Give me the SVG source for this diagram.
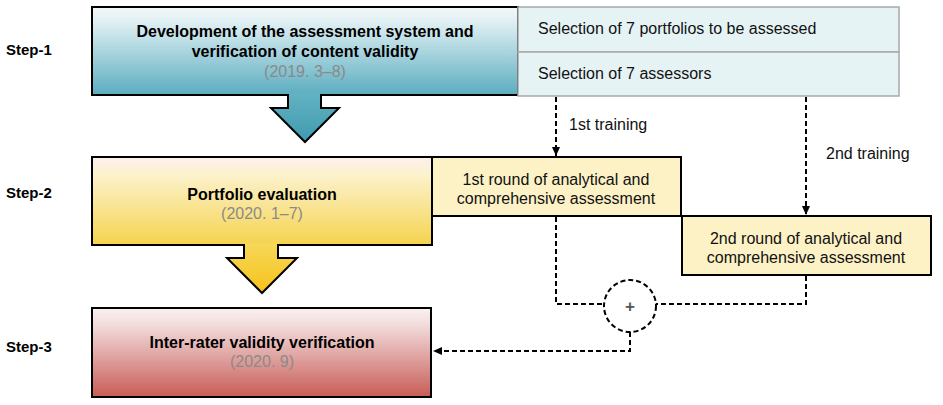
<svg xmlns="http://www.w3.org/2000/svg" width="943" height="405" viewBox="0 0 943 405">
<defs>
<linearGradient id="gBlue" x1="0" y1="0" x2="0" y2="1">
<stop offset="0" stop-color="#f3f7f8"/>
<stop offset="0.15" stop-color="#e2f1f4"/>
<stop offset="1" stop-color="#5badc0"/>
</linearGradient>
<linearGradient id="gBlueA" x1="0" y1="0" x2="0" y2="1">
<stop offset="0" stop-color="#62b2c3"/>
<stop offset="1" stop-color="#3f9bae"/>
</linearGradient>
<linearGradient id="gYel" x1="0" y1="0" x2="0" y2="1">
<stop offset="0" stop-color="#fdf0f0"/>
<stop offset="0.2" stop-color="#fcf2cc"/>
<stop offset="1" stop-color="#f5d34e"/>
</linearGradient>
<linearGradient id="gYelA" x1="0" y1="0" x2="0" y2="1">
<stop offset="0" stop-color="#f6d85a"/>
<stop offset="1" stop-color="#f6c21a"/>
</linearGradient>
<linearGradient id="gRed" x1="0" y1="0" x2="0" y2="1">
<stop offset="0" stop-color="#fbf1f1"/>
<stop offset="0.2" stop-color="#f1dada"/>
<stop offset="1" stop-color="#c85c56"/>
</linearGradient>
<marker id="ah" markerWidth="10" markerHeight="10" refX="9" refY="5" orient="auto" markerUnits="userSpaceOnUse">
<path d="M0,1 L9,5 L0,9 Z" fill="#000"/>
</marker>
<style>
.step{font-family:"Liberation Sans",Arial,sans-serif;font-weight:bold;font-size:15px;fill:#000}
.title{font-family:"Liberation Sans",Arial,sans-serif;font-weight:bold;font-size:16px;fill:#000;text-anchor:middle}
.date{font-family:"Liberation Sans",Arial,sans-serif;font-size:16px;fill:#8a8a8a;text-anchor:middle}
.lbl{font-family:"Liberation Sans",Arial,sans-serif;font-size:16px;fill:#111}
.lblc{font-family:"Liberation Sans",Arial,sans-serif;font-size:16px;fill:#111;text-anchor:middle}
.box{stroke:#000;stroke-width:2}
.ybox{fill:#fdf2c6;stroke:#000;stroke-width:2}
.tbl{fill:#e6f3f5;stroke:#a9a9a9;stroke-width:1.5}
.dash{fill:none;stroke:#000;stroke-width:2;stroke-dasharray:5 3}
.aout{fill:none;stroke:#000;stroke-width:2;stroke-linejoin:miter}
</style>
</defs>
<rect width="943" height="405" fill="#fff"/>

<g id="labels">
<text class="step" x="6" y="55">Step-1</text>
<text class="step" x="6" y="198">Step-2</text>
<text class="step" x="6" y="352">Step-3</text>
</g>

<g id="step1">
<rect class="box" x="92" y="7" width="426" height="88" fill="url(#gBlue)"/>
<text class="title" x="305" y="37">Development of the assessment system and</text>
<text class="title" x="305" y="57">verification of content validity</text>
<text class="date" x="305" y="77">(2019. 3–8)</text>
</g>

<g id="arrow1">
<polygon points="289,93 320,93 320,108 339,108 305,142 271,108 289,108" fill="url(#gBlueA)"/>
<polyline class="aout" points="288,95 288,108 271,108 305,142 339,108 321,108 321,95"/>
</g>

<g id="table">
<rect class="tbl" x="518" y="7" width="381" height="45"/>
<rect class="tbl" x="518" y="52" width="381" height="44"/>
<text class="lbl" x="538" y="34">Selection of 7 portfolios to be assessed</text>
<text class="lbl" x="538" y="79">Selection of 7 assessors</text>
</g>

<g id="step2">
<rect class="box" x="92" y="157" width="340" height="88" fill="url(#gYel)"/>
<text class="title" x="262" y="200">Portfolio evaluation</text>
<text class="date" x="262" y="219">(2020. 1–7)</text>
</g>

<g id="arrow2">
<polygon points="245,243 277,243 277,258 297,258 262,293 227,258 245,258" fill="url(#gYelA)"/>
<polyline class="aout" points="244,245 244,258 227,258 262,293 297,258 278,258 278,245"/>
</g>

<g id="round1">
<rect class="ybox" x="432" y="157" width="249" height="59"/>
<text class="lblc" x="556" y="185">1st round of analytical and</text>
<text class="lblc" x="556" y="204">comprehensive assessment</text>
</g>

<g id="round2">
<rect class="ybox" x="682" y="216" width="249" height="59"/>
<text class="lblc" x="806" y="244">2nd round of analytical and</text>
<text class="lblc" x="806" y="263">comprehensive assessment</text>
</g>

<g id="step3">
<rect class="box" x="92" y="308" width="339" height="89" fill="url(#gRed)"/>
<text class="title" x="262" y="348">Inter-rater validity verification</text>
<text class="date" x="262" y="367">(2020. 9)</text>
</g>

<g id="combine">
<circle class="dash" cx="630" cy="306" r="26" fill="#fff"/>
<text x="630" y="312" font-family="Liberation Sans,Arial,sans-serif" font-weight="bold" font-size="17" fill="#555" text-anchor="middle">+</text>
</g>

<g id="connectors">
<line class="dash" x1="556" y1="97" x2="556" y2="156" marker-end="url(#ah)"/>
<text class="lbl" x="569" y="130">1st training</text>
<line class="dash" x1="806" y1="97" x2="806" y2="215" marker-end="url(#ah)"/>
<text class="lbl" x="826" y="159">2nd training</text>
<polyline class="dash" points="556,217 556,304 604,304"/>
<polyline class="dash" points="806,276 806,304 656,304"/>
<polyline class="dash" points="630,332 630,351 433,351" marker-end="url(#ah)"/>
</g>
</svg>
